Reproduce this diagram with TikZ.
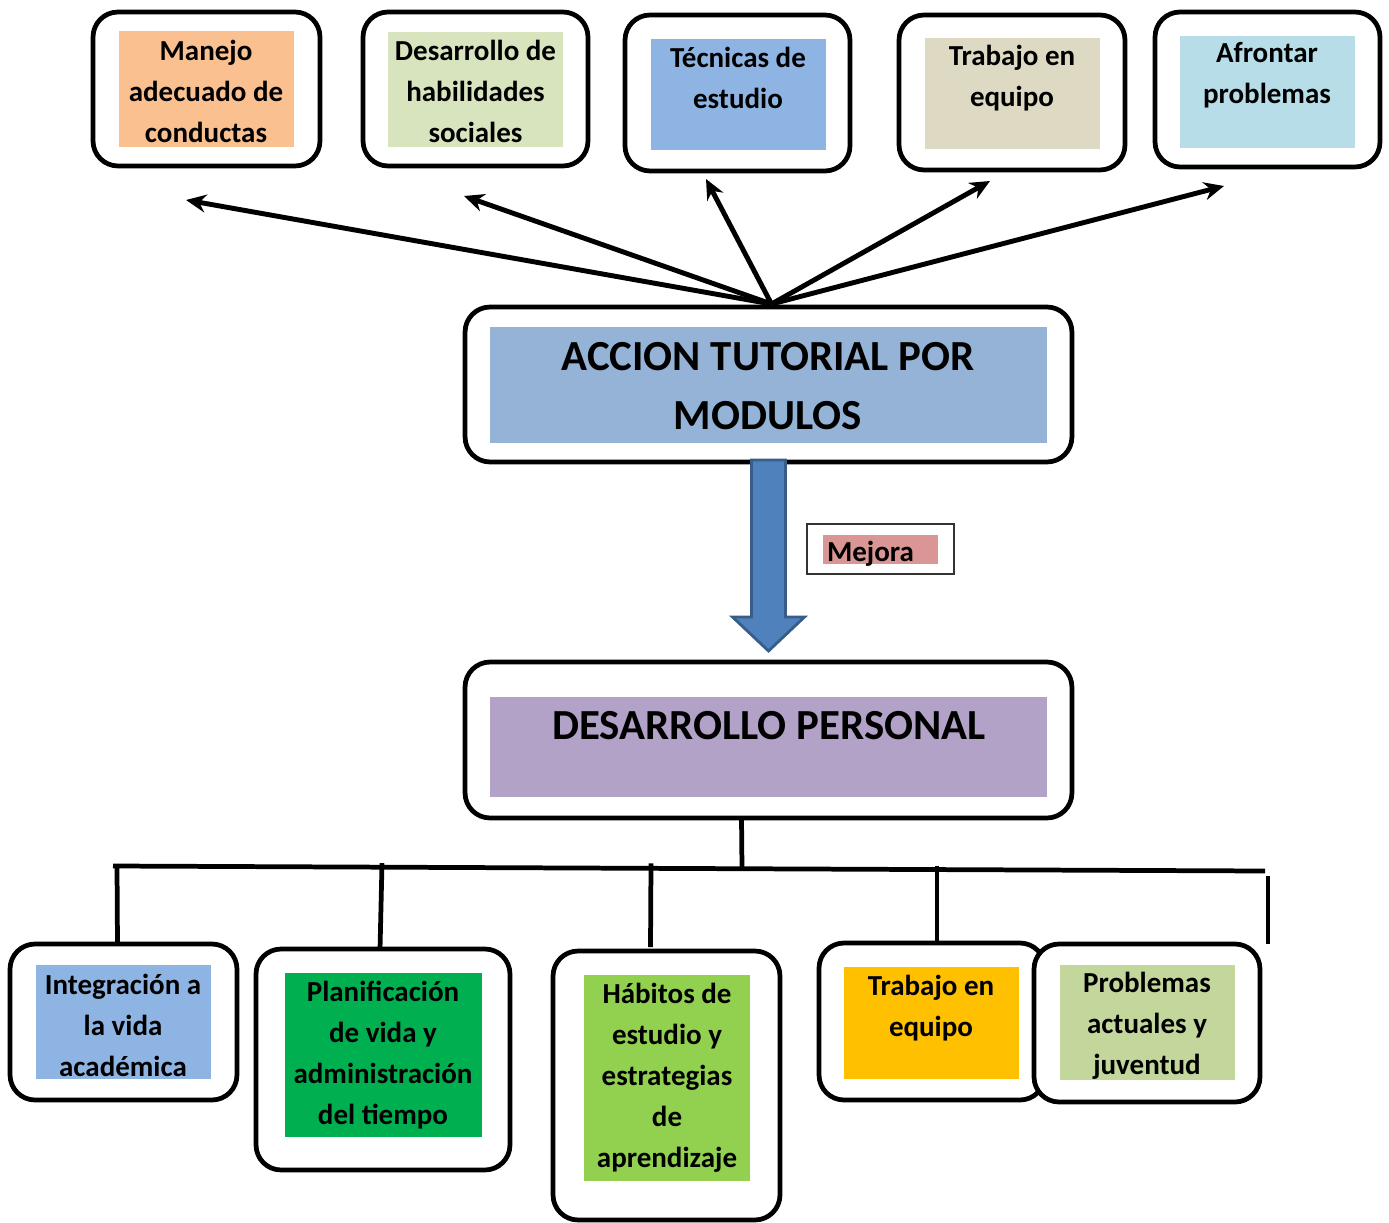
\documentclass[tikz,border=0pt]{standalone}
\usepackage{fontspec}
\setmainfont{Carlito}
\usetikzlibrary{arrows.meta,calc}
\definecolor{cOrange}{HTML}{FAC090}
\definecolor{cLGreen}{HTML}{D7E4BD}
\definecolor{cBlue}{HTML}{8EB4E3}
\definecolor{cTan}{HTML}{DDD9C3}
\definecolor{cCyan}{HTML}{B7DDE8}
\definecolor{cMain}{HTML}{95B3D7}
\definecolor{cPurple}{HTML}{B2A2C7}
\definecolor{cMejora}{HTML}{D99694}
\definecolor{cGreen}{HTML}{00B050}
\definecolor{cLime}{HTML}{92D050}
\definecolor{cAmber}{HTML}{FFC000}
\definecolor{cOlive}{HTML}{C3D69B}
\definecolor{cArrow}{HTML}{4F81BD}
\definecolor{cArrowB}{HTML}{385D8A}
\tikzset{
  outerbox/.style={draw=black, fill=white, line width=2.7pt, rounded corners=0.5cm, inner sep=0pt, outer sep=0pt},
  fillbox/.style={inner sep=0pt, outer sep=0pt},
  txt/.style={align=center, inner sep=0pt, font=\bfseries\fontsize{16.5}{23.3}\selectfont},
  bigtxt/.style={align=center, inner sep=0pt, font=\bfseries\fontsize{24.4}{33.5}\selectfont},
  spoke/.style={line width=2.8pt, -{Stealth[length=0.4cm, width=0.36cm]}},
  conn/.style={line width=2.7pt},
  barrow/.style={fill=cArrow, draw=cArrowB, line width=1.6pt, line join=miter}
}
\begin{document}
\begin{tikzpicture}[x=0.02cm, y=-0.02cm]
\useasboundingbox (0,0) rectangle (1389,1223);

% ---------- top boxes ----------
\node[outerbox, minimum width=4.54cm, minimum height=3.08cm] (o1) at (206.5,89) {};
\node[fillbox, fill=cOrange, minimum width=3.5cm, minimum height=2.32cm] (f1) at (206.5,89) {};
\node[txt] (t1) at (206,91) {Manejo\\adecuado de\\conductas};

\node[outerbox, minimum width=4.5cm, minimum height=3.08cm] (o2) at (475.5,89) {};
\node[fillbox, fill=cLGreen, minimum width=3.5cm, minimum height=2.3cm] (f2) at (475.5,89.5) {};
\node[txt] (t2) at (475.5,91) {Desarrollo de\\habilidades\\sociales};

\node[outerbox, minimum width=4.5cm, minimum height=3.12cm] (o3) at (737.5,93) {};
\node[fillbox, fill=cBlue, minimum width=3.5cm, minimum height=2.22cm] (f3) at (738.5,94.5) {};
\node[txt] (t3) at (738,78) {Técnicas de\\estudio};

\node[outerbox, minimum width=4.52cm, minimum height=3.1cm] (o4) at (1012,92.5) {};
\node[fillbox, fill=cTan, minimum width=3.5cm, minimum height=2.22cm] (f4) at (1012.5,93.5) {};
\node[txt] (t4) at (1012,78) {Trabajo en\\equipo};

\node[outerbox, minimum width=4.5cm, minimum height=3.1cm] (o5) at (1267.5,89.5) {};
\node[fillbox, fill=cCyan, minimum width=3.5cm, minimum height=2.24cm] (f5) at (1267.5,92) {};
\node[txt] (t5) at (1267,75) {Afrontar\\problemas};

% ---------- main box ----------
\node[outerbox, minimum width=12.14cm, minimum height=3.1cm] (main) at (768.5,384.5) {};
\node[fillbox, fill=cMain, minimum width=11.14cm, minimum height=2.32cm] (fmain) at (768.5,385) {};
\node[bigtxt] (tmain) at (768,386) {ACCION TUTORIAL POR\\MODULOS};

% ---------- spokes ----------
\coordinate (hub) at ($(main.north)+(3,-3)$);
\coordinate (a1) at (186,200);
\coordinate (a2) at (464,196);
\coordinate (a3) at (706,179);
\coordinate (a4) at (990,181);
\coordinate (a5) at (1224,186);
\foreach \t in {a1,a2,a3,a4,a5} { \draw[spoke] (hub) -- (\t); }

% ---------- DESARROLLO PERSONAL ----------
\node[outerbox, minimum width=12.14cm, minimum height=3.12cm] (dp) at (768.5,740) {};
\node[fillbox, fill=cPurple, minimum width=11.14cm, minimum height=2cm] (fdp) at (768.5,747) {};
\node[bigtxt] (tdp) at (769,726) {DESARROLLO PERSONAL};

% ---------- block arrow ----------
\draw[barrow] ($(main.south)+(-17,-2)$) -- ($(main.south)+(-17,155)$) -- ($(main.south)+(-36,155)$)
  -- ($(main.south)+(0,189)$) -- ($(main.south)+(36,155)$) -- ($(main.south)+(17,155)$)
  -- ($(main.south)+(17,-2)$) -- cycle;

% ---------- Mejora ----------
\node[draw=black!80, line width=0.6pt, fill=white, inner sep=0pt, minimum width=2.94cm, minimum height=1cm] (mej) at (880.5,549) {};
\node[fillbox, fill=cMejora, minimum width=2.3cm, minimum height=0.58cm] (fmej) at (880.5,549.5) {};
\node[txt] (tmej) at (870.5,554) {Mejora};

% ---------- bottom boxes ----------
\node[outerbox, minimum width=4.54cm, minimum height=3.12cm] (b1) at (123.5,1022) {};
\node[fillbox, fill=cBlue, minimum width=3.5cm, minimum height=2.28cm] (g1) at (123.5,1022) {};
\node[txt] (u1) at (123,1025) {Integración a\\la vida\\académica};

\node[outerbox, minimum width=5.08cm, minimum height=4.42cm] (b2) at (383,1059.5) {};
\node[fillbox, fill=cGreen, minimum width=3.94cm, minimum height=3.28cm] (g2) at (383.5,1055) {};
\node[txt] (u2) at (383,1055) {Planificación\\de vida y\\administración\\del tiempo};

\node[outerbox, minimum width=4.54cm, minimum height=5.38cm] (b3) at (666.5,1085.5) {};
\node[fillbox, fill=cLime, minimum width=3.32cm, minimum height=4.12cm] (g3) at (667,1078) {};
\node[txt] (u3) at (667,1077.5) {Hábitos de\\estudio y\\estrategias\\de\\aprendizaje};

\node[outerbox, minimum width=4.52cm, minimum height=3.14cm] (b4) at (932,1021.5) {};
\node[fillbox, fill=cAmber, minimum width=3.5cm, minimum height=2.24cm] (g4) at (931.5,1023) {};
\node[txt] (u4) at (931,1008) {Trabajo en\\equipo};

\node[outerbox, minimum width=4.52cm, minimum height=3.16cm] (b5) at (1147,1023) {};
\node[fillbox, fill=cOlive, minimum width=3.5cm, minimum height=2.3cm] (g5) at (1147.5,1022.5) {};
\node[txt] (u5) at (1147,1026) {Problemas\\actuales y\\juventud};

% ---------- tree connectors ----------
\coordinate (busL) at (113,866);
\coordinate (busR) at (1265,871);
\coordinate (j0) at (742,868.7);
\coordinate (j1) at (117,866.1);
\coordinate (j2) at (382,867.2);
\coordinate (j3) at (651,868.3);
\coordinate (j4) at (937,869.6);
\coordinate (s1) at (1268,876);
\coordinate (s2) at (1268,944);
\draw[conn] ($(dp.south)+(-27,0)$) -- (j0);
\draw[conn] (busL) -- (busR);
\draw[conn] (j1) -- ($(b1.north)+(-6,1)$);
\draw[conn] ($(j2)+(0,-4)$) -- ($(b2.north)+(-3,1)$);
\draw[conn] ($(j3)+(0,-5)$) -- ($(b3.north)+(-16,-4)$);
\draw[conn] ($(j4)+(0,-4)$) -- ($(b4.north)+(5,0)$);
\draw[conn] (s1) -- (s2);
\end{tikzpicture}
\end{document}
